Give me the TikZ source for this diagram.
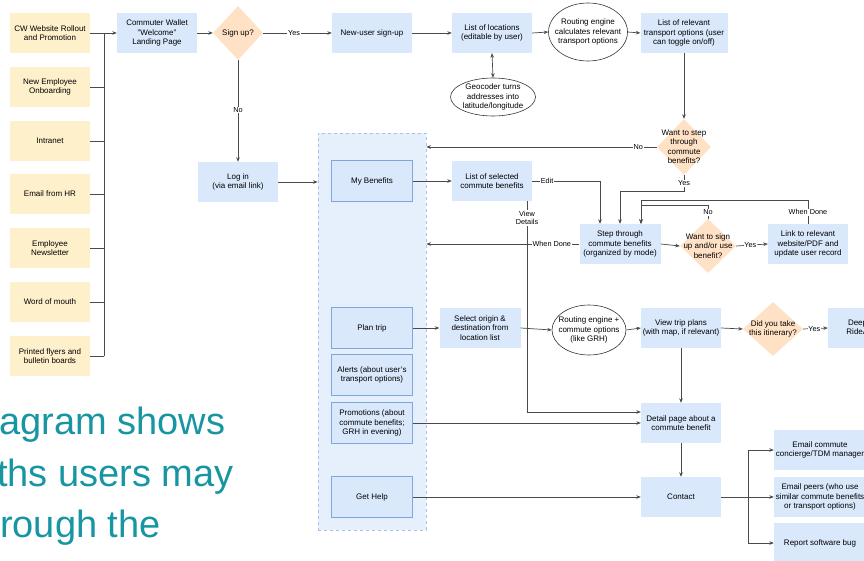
\documentclass[tikz,border=0pt]{standalone}
\usepackage{fontspec}
\setmainfont{Liberation Sans}
\usetikzlibrary{shapes.geometric,arrows.meta}
\definecolor{yel}{HTML}{FFF0CC}
\definecolor{blu}{HTML}{DAE8FC}
\definecolor{pnl}{HTML}{E6F0FD}
\definecolor{pbd}{HTML}{7EA6E0}
\definecolor{pdash}{HTML}{A9C2E6}
\definecolor{pch}{HTML}{FFE2C6}
\definecolor{ln}{HTML}{4A4A4A}
\definecolor{teal1}{HTML}{1796A2}
\begin{document}
\begin{tikzpicture}[x=1pt,y=-1pt,
 every node/.style={font=\fontsize{8}{9.5}\selectfont, align=center, inner sep=1pt},
 ybox/.style={fill=yel, minimum width=80pt, minimum height=40pt},
 bbox/.style={fill=blu, minimum width=80pt, minimum height=40pt},
 pbox/.style={fill=blu, draw=pbd, line width=0.6pt, minimum width=81pt, minimum height=41pt},
 dia/.style={diamond, fill=pch, inner sep=0pt},
 ell/.style={ellipse, draw=black!80, line width=0.6pt, fill=white, inner sep=0pt},
 conn/.style={draw=ln, line width=0.7pt},
 arr/.style={conn, -{Stealth[length=4.5pt,width=3.6pt]}},
 lbl/.style={fill=white, inner sep=0.8pt, font=\fontsize{7.3}{8.6}\selectfont}]
\useasboundingbox (0,0) rectangle (864,561);
\clip (0,0) rectangle (864,561);

% source boxes
\node[ybox] (s1) at (50,33) {CW Website Rollout\\and Promotion};
\node[ybox] (s2) at (50,87) {New Employee\\Onboarding};
\node[ybox] (s3) at (50,141) {Intranet};
\node[ybox] (s4) at (50,194) {Email from HR};
\node[ybox] (s5) at (50,248) {Employee\\Newsletter};
\node[ybox] (s6) at (50,302) {Word of mouth};
\node[ybox] (s7) at (50,356) {Printed flyers and\\bulletin boards};
\coordinate (tx) at (104,0);

% top row
\node[bbox] (cw) at (157,33) {Commuter Wallet\\"Welcome"\\Landing Page};
\node[dia, minimum width=50pt, minimum height=54pt] (signup) at (238,33) {};
\node (signupt) at (signup) {Sign up?};
\node[bbox] (newuser) at (372,33) {New-user sign-up};
\node[bbox] (loc) at (492,33) {List of locations\\(editable by user)};
\node[ell, minimum width=79pt, minimum height=58pt] (r1) at (588,32) {};
\node (r1t) at (r1) {Routing engine\\calculates relevant\\transport options};
\node[ell, minimum width=85pt, minimum height=38pt] (geo) at (493,97) {};
\node (geot) at (geo) {Geocoder turns\\addresses into\\latitude/longitude};
\node[bbox, minimum width=87pt] (rel) at (684,33) {List of relevant\\transport options (user\\can toggle on/off)};
\node[dia, minimum width=54pt, minimum height=56pt] (wantstep) at (684,147) {};
\node (wantstept) at (wantstep) {Want to step\\through\\commute\\benefits?};

% login and panel
\node[bbox] (login) at (238,182) {Log in\\(via email link)};
\node[fill=pnl, draw=pdash, line width=0.7pt, dash pattern=on 3pt off 3pt, minimum width=108pt, minimum height=397pt, inner sep=0pt] (panel) at (372,331.5) {};
\node[pbox] (myb) at (372,181) {My Benefits};
\node[pbox] (plan) at (372,328) {Plan trip};
\node[pbox] (alerts) at (372,375) {Alerts (about user's\\transport options)};
\node[pbox] (promo) at (372,423) {Promotions (about\\commute benefits;\\GRH in evening)};
\node[pbox] (help) at (372,497) {Get Help};

% benefits
\node[bbox] (sel) at (492,181) {List of selected\\commute benefits};
\node[bbox, minimum width=81pt] (step) at (620,244) {Step through\\commute benefits\\(organized by mode)};
\node[dia, minimum width=56pt, minimum height=54pt] (signuse) at (708,246) {};
\node (signuset) at (signuse) {Want to sign\\up and/or use\\benefit?};
\node[bbox] (link) at (808,244) {Link to relevant\\website/PDF and\\update user record};

% trip
\node[bbox, minimum width=81pt] (origin) at (480,328) {Select origin \&\\destination from\\location list};
\node[ell, minimum width=74pt, minimum height=50pt] (r2) at (589,330) {};
\node (r2t) at (r2) {Routing engine +\\commute options\\(like GRH)};
\node[bbox] (view) at (681,328) {View trip plans\\(with map, if relevant)};
\node[dia, minimum width=60pt, minimum height=54pt] (took) at (773,329) {};
\node (tookt) at (took) {Did you take\\this itinerary?};
\node[bbox] (deep) at (868,328) {Deeplink to\\RideAmigos};

% detail / contact
\node[bbox] (detail) at (681,423) {Detail page about a\\commute benefit};
\node[bbox] (contact) at (681,497) {Contact};
\node[bbox, minimum width=92pt] (em1) at (820,450) {Email commute\\concierge/TDM manager};
\node[bbox, minimum width=92pt] (em2) at (820,497) {Email peers (who use\\similar commute benefits\\or transport options)};
\node[bbox, minimum width=92pt] (em3) at (820,543) {Report software bug};
\coordinate (cj) at (748,497);

% teal text
\node[anchor=base west, inner sep=0pt, text=teal1, font=\fontsize{38}{46}\selectfont] (t1) at (-1,434) {agram shows};
\node[anchor=base west, inner sep=0pt, text=teal1, font=\fontsize{38}{46}\selectfont] (t2) at (-3,486) {ths users may};
\node[anchor=base west, inner sep=0pt, text=teal1, font=\fontsize{38}{46}\selectfont] (t3) at (0,537) {rough the};

% connectors
\draw[arr] (s1.east) -- (cw.west);
\draw[conn] (s1.east -| tx) -- (s7.east -| tx);
\foreach \k in {2,...,7} {\draw[conn] (s\k.east) -- (s\k.east -| tx);}
\draw[arr] (cw.east) -- (signup.west);
\draw[arr] (signup.east) -- node[lbl, pos=0.45]{Yes} (newuser.west);
\draw[arr] (newuser.east) -- (loc.west);
\draw[arr] (loc.east) -- (r1.west);
\draw[arr] (r1.east) -- (rel.west);
\draw[conn, {Stealth[length=4.5pt,width=3.6pt]}-{Stealth[length=4.5pt,width=3.6pt]}] (loc.south) -- (geo.north);
\draw[arr] (signup.south) -- node[lbl, pos=0.49]{No} (login.north);
\draw[arr] (login.east) -- (login.east -| panel.west);
\draw[arr] (myb.east) -- (sel.west);
\draw[arr] (rel.south) -- (wantstep.north);
\draw[arr] (wantstep.west) -- node[lbl, pos=0.08]{No} (wantstep.west -| panel.east);
\draw[arr] (wantstep.south) -- node[lbl]{Yes} ++(0,16) -| (step.north);
\draw[arr] (sel.east) -| node[lbl, pos=0.11]{Edit} ([xshift=-20pt]step.north);
\draw[arr] ([xshift=35pt]sel.south) |- node[lbl, pos=0.04]{View\\Details} ([yshift=11pt]detail.west);
\draw[arr] (step.west) -- node[lbl, pos=0.18]{When Done} (step.west -| panel.east);
\draw[arr] (step.east) -- (signuse.west);
\draw[arr] (signuse.east) -- node[lbl, pos=0.45]{Yes} (link.west);
\draw[arr] (signuse.north) -- node[lbl]{No} ++(0,-13) -| ([xshift=21pt]step.north);
\draw[arr] (link.north) -- node[lbl]{When Done} ++(0,-23) -| ([xshift=21pt]step.north);
\draw[arr] (plan.east) -- (origin.west);
\draw[arr] (origin.east) -- (r2.west);
\draw[arr] (r2.east) -- (view.west);
\draw[arr] (view.east) -- (took.west);
\draw[arr] (took.east) -- node[lbl, pos=0.45]{Yes} (deep.west);
\draw[arr] (view.south) -- (detail.north);
\draw[arr] (promo.east) -- (promo.east -| detail.west);
\draw[arr] (detail.south) -- (contact.north);
\draw[arr] (help.east) -- (contact.west);
\draw[conn] (contact.east) -- (cj);
\draw[arr] (cj) |- (em1.west);
\draw[arr] (cj) -- (em2.west);
\draw[arr] (cj) |- (em3.west);
\end{tikzpicture}
\end{document}
